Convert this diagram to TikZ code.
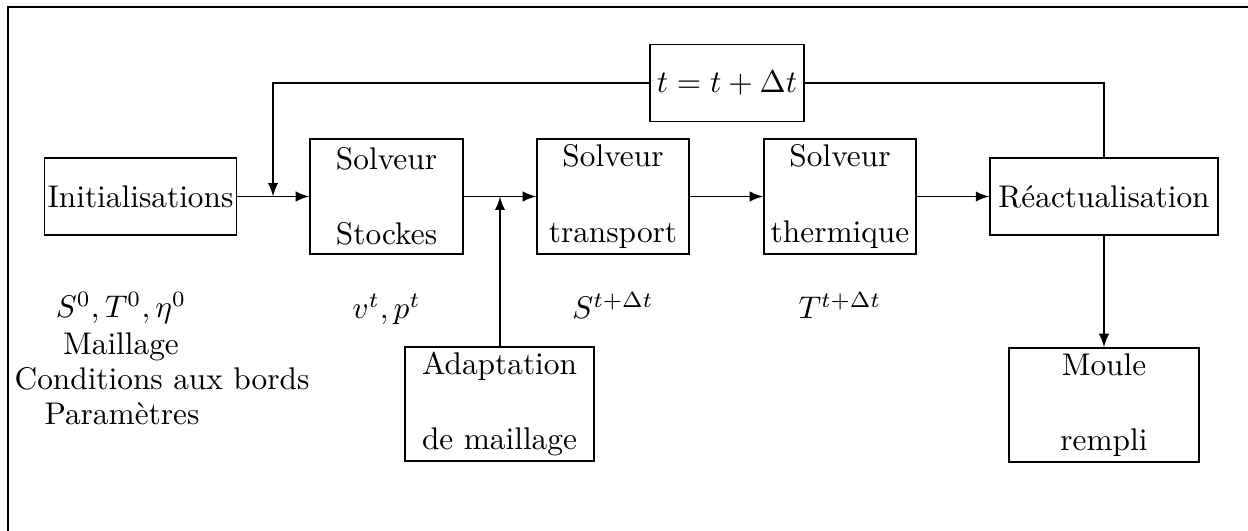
\documentclass[tikz,border=0pt]{standalone}
\usetikzlibrary{arrows}
\newcommand\pxu{0.011218cm}
\begin{document}
\begin{tikzpicture}[x=0.011218cm,y=-0.011218cm,
  box/.style={draw,line width=0.5pt,inner sep=1pt,align=center},
  conn/.style={line width=0.5pt},
  arr/.style={line width=0.5pt,-latex},
  lbl/.style={anchor=base,inner sep=0pt}]
\useasboundingbox (0,0) rectangle (1248,531);
\draw[line width=0.8pt] (8,531) -- (8,7) -- (1248,7);
% nodes
\node[box,minimum width=191*\pxu,minimum height=77*\pxu] (init) at (140.5,196.5) {Initialisations};
\node[box,minimum width=153*\pxu,minimum height=115*\pxu] (stokes) at (386.5,196.5) {Solveur\\[12pt]Stockes};
\node[box,minimum width=152*\pxu,minimum height=115*\pxu] (transp) at (613,196.5) {Solveur\\[12pt]transport};
\node[box,minimum width=152*\pxu,minimum height=115*\pxu] (therm) at (840,196.5) {Solveur\\[12pt]thermique};
\node[box,minimum width=228*\pxu,minimum height=77*\pxu] (react) at (1104,196.5) {Réactualisation};
\node[box,minimum width=154*\pxu,minimum height=77*\pxu] (dt) at (727,83) {$t=t+\Delta t$};
\node[box,minimum width=189*\pxu,minimum height=114*\pxu] (adapt) at (499.5,404) {Adaptation\\[12pt]de maillage};
\node[box,minimum width=190*\pxu,minimum height=114*\pxu] (moule) at (1104,405) {Moule\\[12pt]rempli};
% labels
\node[lbl] (l0) at (121,318) {$S^0,T^0,\eta^0$};
\node[lbl] (l1) at (121,355) {Maillage};
\node[lbl,anchor=base west] (l2) at (14,390) {Conditions aux bords};
\node[lbl] (l3) at (122,425) {Paramètres};
\node[lbl] (lv) at (386.5,319) {$v^t,p^t$};
\node[lbl] (ls) at (613,319) {$S^{t+\Delta t}$};
\node[lbl] (lt) at (840,319) {$T^{t+\Delta t}$};
% junctions
\coordinate (j1) at (273,196.5);
\coordinate (j2) at (500,196.5);
% connectors
\draw[arr] (init.east) -- (stokes.west);
\draw[arr] (stokes.east) -- (transp.west);
\draw[arr] (transp.east) -- (therm.west);
\draw[arr] (therm.east) -- (react.west);
\draw[arr] (react.south) -- (moule.north);
\draw[arr] (adapt.north -| j2) -- (j2);
\draw[conn] (react.north) |- (dt.east);
\draw[arr] (dt.west) -| (j1);
\end{tikzpicture}
\end{document}
